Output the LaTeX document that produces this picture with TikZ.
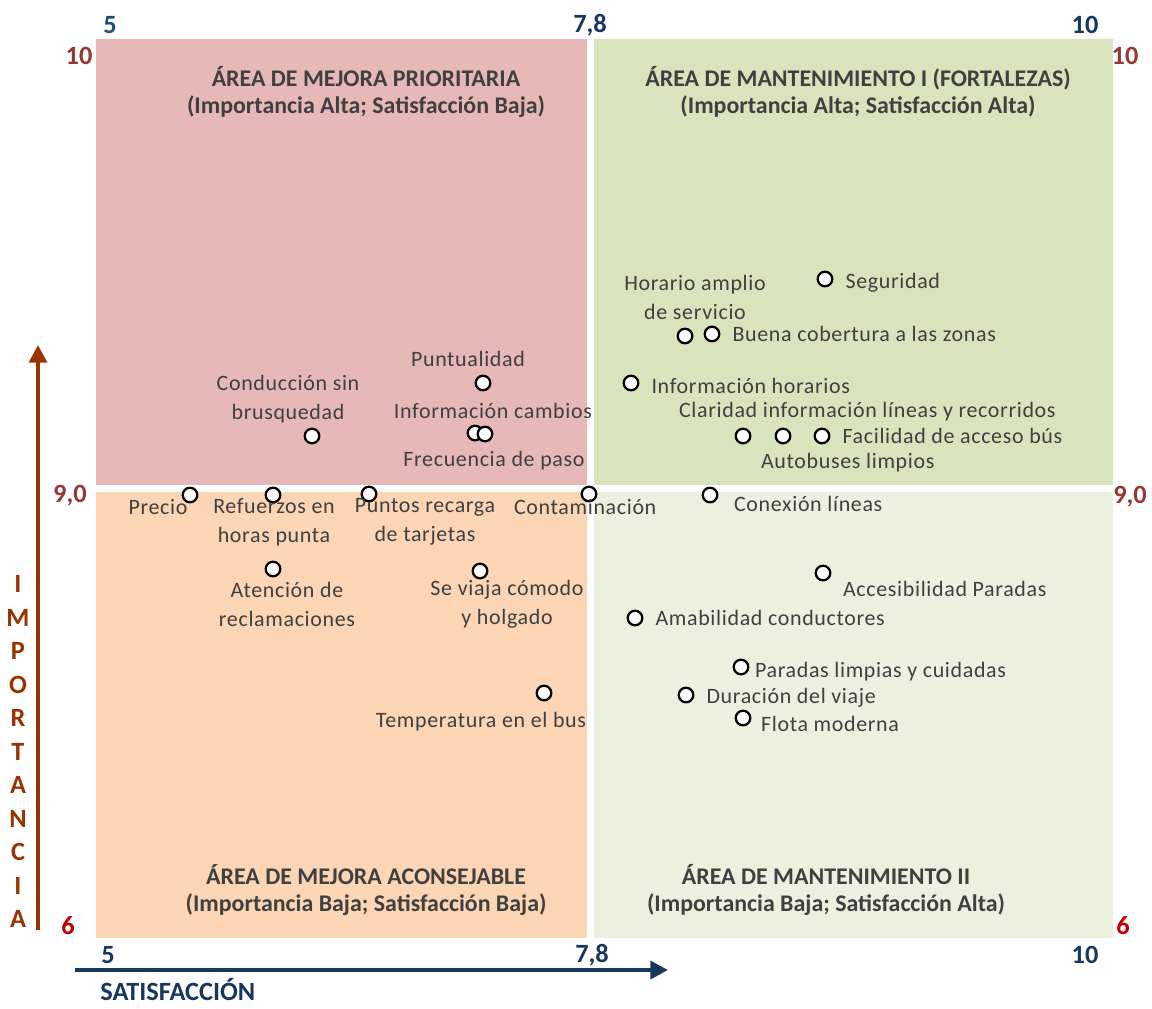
\documentclass[tikz,border=0pt]{standalone}
\usepackage{fontspec}
\setmainfont{Carlito}
\newfontfamily\labfont[LetterSpace=3]{Carlito}
\usepackage{xcolor}
\usetikzlibrary{positioning, arrows.meta}

\definecolor{prio}{HTML}{E6B8B7}
\definecolor{fort}{HTML}{D8E4BC}
\definecolor{acons}{HTML}{FCD5B4}
\definecolor{mant}{HTML}{EBF1DE}
\definecolor{txtgray}{HTML}{404040}
\definecolor{navy}{HTML}{17375E}
\definecolor{navylight}{HTML}{1F4E79}
\definecolor{darkred}{HTML}{953735}
\definecolor{brightred}{HTML}{C00000}
\definecolor{brown}{HTML}{993300}

\begin{document}
\begin{tikzpicture}[x=0.02cm, y=-0.02cm,
    node distance=0.2cm and 0.2cm,
    pt/.style={circle, draw=black, fill=white, line width=1.3pt,
      minimum size=8.3pt, inner sep=0pt},
    lab/.style={font=\labfont\fontsize{12.5}{16.5}\selectfont, text=txtgray,
      inner sep=1pt, align=center},
    ttl/.style={font=\bfseries\fontsize{13.6}{15.3}\selectfont, text=txtgray,
      align=center},
    numb/.style={font=\bfseries\fontsize{15}{17}\selectfont, text=navy},
    numr/.style={font=\bfseries\fontsize{15}{17}\selectfont, text=darkred},
    axarr/.style={line width=2.8pt, -{Triangle[length=10pt, width=10pt]}}]
    \useasboundingbox (0,0) rectangle (1152,1008);

    % quadrants
    \fill[prio]  (96,39)  rectangle (587,485);
    \fill[fort]  (594,39) rectangle (1113,485);
    \fill[acons] (96,492) rectangle (587,938);
    \fill[mant]  (594,492) rectangle (1113,938);

    \node[ttl] (tprio) at (366,92)  {ÁREA DE MEJORA PRIORITARIA\\(Importancia Alta; Satisfacción Baja)};
    \node[ttl] (tfort) at (858,92)  {ÁREA DE MANTENIMIENTO I (FORTALEZAS)\\(Importancia Alta; Satisfacción Alta)};
    \node[ttl] (tacon) at (366,890) {ÁREA DE MEJORA ACONSEJABLE\\(Importancia Baja; Satisfacción Baja)};
    \node[ttl] (tmant) at (826,890) {ÁREA DE MANTENIMIENTO II\\(Importancia Baja; Satisfacción Alta)};

    % scale values
    \node[numb, text=navylight] (x5t) at (110,25) {5};
    \node[numb] (x78t) at (590,25) {7,8};
    \node[numb] (x10t) at (1085,25) {10};
    \node[numb] (x5b) at (108,955) {5};
    \node[numb] (x78b) at (592,955) {7,8};
    \node[numb] (x10b) at (1085,955) {10};
    \node[numr] (y10l) at (79,56) {10};
    \node[numr] (y9l) at (70,496) {9,0};
    \node[numr, text=brightred] (y6l) at (68,926) {6};
    \node[numr] (y10r) at (1125,56) {10};
    \node[numr] (y9r) at (1130,497) {9,0};
    \node[numr, text=brightred] (y6r) at (1123,926) {6};

    % axes
    \coordinate (xs) at (75,970);
    \coordinate (xe) at (668,970);
    \coordinate (ys) at (38,930);
    \coordinate (ye) at (38,345);
    \draw[axarr, navy] (xs) -- (xe);
    \draw[axarr, brown] (ys) -- (ye);
    \node[numb, anchor=west, inner sep=0pt] (satis) at (100,990) {SATISFACCIÓN};
    \foreach \l [count=\i from 0] in {I,M,P,O,R,T,A,N,C,I,A}
      \node[font=\bfseries\fontsize{15}{17}\selectfont, text=brown] (imp\i) at (18,584+33.5*\i) {\l};

    % points
    \node[pt] (seg)  at (825,279) {};
    \node[pt] (hor)  at (685,336) {};
    \node[pt] (bcz)  at (712,334) {};
    \node[pt] (ihor) at (631,383) {};
    \node[pt] (cla)  at (743,436) {};
    \node[pt] (aut)  at (783,436) {};
    \node[pt] (fac)  at (822,436) {};
    \node[pt] (con)  at (710,495) {};
    \node[pt] (cont) at (589,494) {};
    \node[pt] (pun)  at (483,383) {};
    \node[pt] (icam) at (475,433) {};
    \node[pt] (fre)  at (485,434) {};
    \node[pt] (cond) at (312,436) {};
    \node[pt] (pre)  at (190,495) {};
    \node[pt] (ref)  at (273,495) {};
    \node[pt] (prt)  at (369,494) {};
    \node[pt] (atn)  at (273,569) {};
    \node[pt] (cmo)  at (480,571) {};
    \node[pt] (tmp)  at (544,693) {};
    \node[pt] (acc)  at (823,573) {};
    \node[pt] (ama)  at (635,618) {};
    \node[pt] (par)  at (741,667) {};
    \node[pt] (dur)  at (686,695) {};
    \node[pt] (flo)  at (743,718) {};

    % labels
    \node[lab, right=of seg, yshift=-2pt] (lseg) {Seguridad};
    \node[lab] (lhor) at (695,297) {Horario amplio\\de servicio};
    \node[lab, right=of bcz] (lbcz) {Buena cobertura a las zonas};
    \node[lab, right=of ihor, yshift=-1.5pt] (lihor) {Información horarios};
    \node[lab, anchor=west] (lcla) at (677,412) {Claridad información líneas y recorridos};
    \node[lab, right=of fac] (lfac) {Facilidad de acceso bús};
    \node[lab, anchor=west] (laut) at (759,463) {Autobuses limpios};
    \node[lab, anchor=west] (lcon) at (732,504) {Conexión líneas};
    \node[lab, anchor=west] (lcont) at (512,507) {Contaminación};
    \node[lab] (lpun) at (468,359) {Puntualidad};
    \node[lab] (licam) at (493,411) {Información cambios};
    \node[lab] (lfre) at (494,461) {Frecuencia de paso};
    \node[lab] (lcond) at (288,399) {Conducción sin\\brusquedad};
    \node[lab] (lpre) at (158,507) {Precio};
    \node[lab] (lref) at (274,522) {Refuerzos en\\horas punta};
    \node[lab] (lprt) at (425,522) {Puntos recarga\\de tarjetas};
    \node[lab] (latn) at (287,604) {Atención de\\reclamaciones};
    \node[lab] (lcmo) at (507,604) {Se viaja cómodo\\y holgado};
    \node[lab] (ltmp) at (481,722) {Temperatura en el bus};
    \node[lab, anchor=west] (lacc) at (841,589) {Accesibilidad Paradas};
    \node[lab, right=of ama] (lama) {Amabilidad conductores};
    \node[lab, right=2pt of par, yshift=-2.5pt] (lpar) {Paradas limpias y cuidadas};
    \node[lab, right=of dur, yshift=-1.5pt] (ldur) {Duración del viaje};
    \node[lab, anchor=west] (lflo) at (759,724) {Flota moderna};
\end{tikzpicture}
\end{document}
